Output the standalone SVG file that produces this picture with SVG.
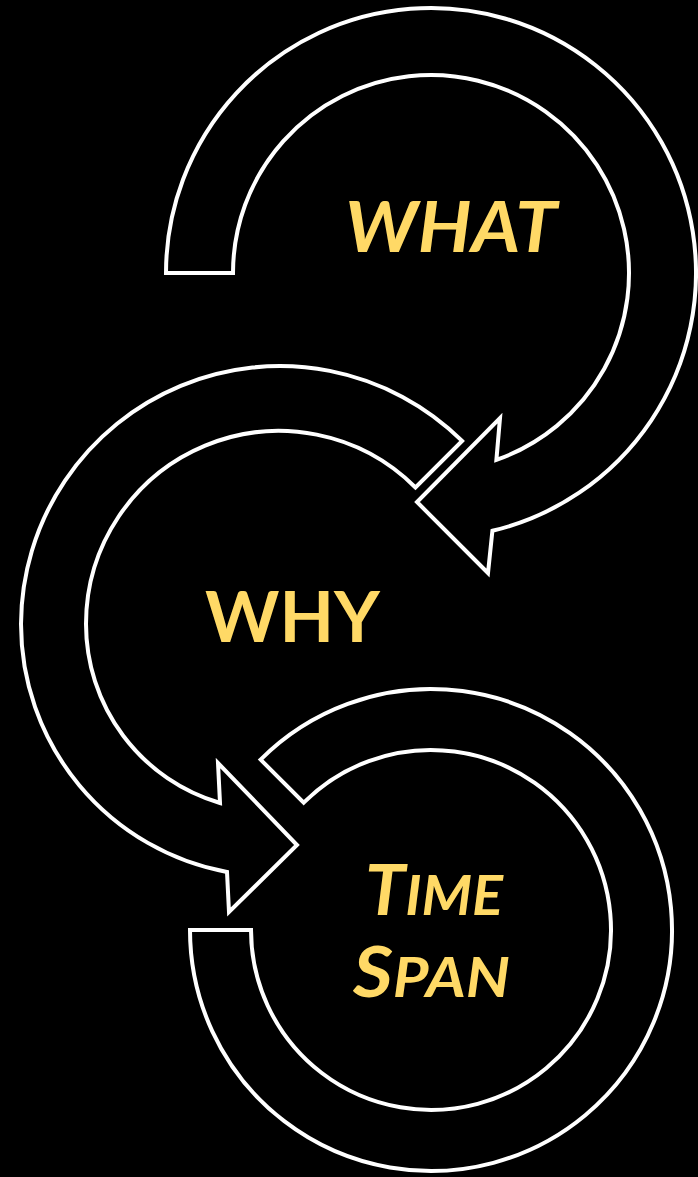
<svg xmlns="http://www.w3.org/2000/svg" width="698" height="1177" viewBox="0 0 698 1177">
<style>
.arrow{fill:#000;stroke:#fff;stroke-width:4;stroke-linejoin:miter;stroke-miterlimit:10}
.lbl{font-family:Lato,"Open Sans","Liberation Sans",sans-serif;font-weight:700;fill:#FFD966}
</style>
<rect width="698" height="1177" fill="#000"/>
<g id="connectors">
<path id="arc-timespan" class="arrow" d="M260.6,759.6 A241,241 0 1 1 190,930 L251,930 A180,180 0 1 0 303.7,802.7 Z"/>
<path id="arrow-why" class="arrow" d="M462.1,440.9 A259,259 0 0 0 21,624 A252.3,252.3 0 0 0 227,872 L229,912 L297,845 L218,763 L220,803 A186.6,186.6 0 0 1 86,624 A193,193 0 0 1 415.5,487.5 Z"/>
<path id="arrow-what" class="arrow" d="M166,273 A265,265 0 1 1 492.4,530.8 L488,573 L417,502 L500,418 L496.4,459.9 A198,198 0 1 0 233,273 Z"/>
</g>
<g id="node-what">
<text class="lbl" x="345" y="252" font-size="71" font-style="italic" textLength="212" lengthAdjust="spacingAndGlyphs">WHAT</text>
</g>
<g id="node-why">
<text class="lbl" x="205" y="642" font-size="71" textLength="175" lengthAdjust="spacingAndGlyphs">WHY</text>
</g>
<g id="node-timespan">
<text class="lbl" x="365" y="915" font-style="italic" textLength="138" lengthAdjust="spacingAndGlyphs"><tspan font-size="70">T</tspan><tspan font-size="56">IME</tspan></text>
<text class="lbl" x="353" y="997" font-style="italic" textLength="157" lengthAdjust="spacingAndGlyphs"><tspan font-size="70">S</tspan><tspan font-size="56">PAN</tspan></text>
</g>
</svg>
